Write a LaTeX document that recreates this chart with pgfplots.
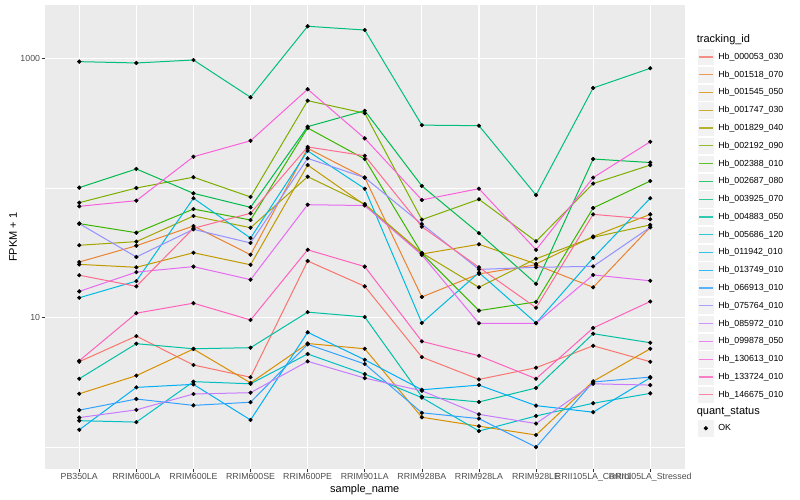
\documentclass[border=0pt]{standalone}
\usepackage{fontspec}
\setmainfont{Liberation Sans}
\usepackage{pgfplots}
\usepackage{pgfplotstable}
\pgfplotsset{compat=1.18}

\definecolor{panel}{HTML}{EBEBEB}
\definecolor{keybg}{HTML}{F2F2F2}
\definecolor{gray30}{HTML}{4D4D4D}
\definecolor{gray20}{HTML}{333333}
% ggplot hue palette, 20 levels
\definecolor{c1}{HTML}{F8766D}
\definecolor{c2}{HTML}{EA8331}
\definecolor{c3}{HTML}{D89000}
\definecolor{c4}{HTML}{C09B00}
\definecolor{c5}{HTML}{A3A500}
\definecolor{c6}{HTML}{7CAE00}
\definecolor{c7}{HTML}{39B600}
\definecolor{c8}{HTML}{00BB4E}
\definecolor{c9}{HTML}{00BF7D}
\definecolor{c10}{HTML}{00C1A3}
\definecolor{c11}{HTML}{00BFC4}
\definecolor{c12}{HTML}{00BAE0}
\definecolor{c13}{HTML}{00B0F6}
\definecolor{c14}{HTML}{35A2FF}
\definecolor{c15}{HTML}{9590FF}
\definecolor{c16}{HTML}{C77CFF}
\definecolor{c17}{HTML}{E76BF3}
\definecolor{c18}{HTML}{FA62DB}
\definecolor{c19}{HTML}{FF62BC}
\definecolor{c20}{HTML}{FF6C91}

% FPKM + 1 per sample (rows) and transcript (columns)
\pgfplotstableread{
x  s1   s2   s3   s4   s5   s6   s7   s8    s9   s10  s11  s12  s13  s14  s15  s16  s17  s18  s19  s20
0  4.56 26.8 2.58 25.7 36.1 76.9 53.0 100.5 942  3.37 1.60 14.2 1.36 1.93 53.0 1.69 15.9 72.1 4.64 21.2
1  7.19 35.8 3.56 24.4 38.5 99.8 45.1 140   920  6.28 1.56 19.1 2.89 2.35 29.3 1.94 22.4 79.7 10.8 17.4
2  4.30 50.8 5.71 31.6 60.7 121  68.7 90.8  970  5.74 3.20 83.2 3.05 2.10 47.9 2.57 24.7 174  12.9 48.8
3  3.46 30.5 3.13 25.5 49.3 85.1 56.5 70.8  500  5.85 3.08 41.0 1.62 2.22 37.6 2.63 19.6 231  9.57 63.7
4  27.3 202  6.30 150  122  471  290  297   1766 11.0 5.23 193  7.69 6.21 169  4.59 74.2 577  33.3 207
5  17.4 120  5.74 73.8 75.1 377  167  394   1652 10.1 3.66 98.6 4.72 4.38 120  3.41 73.1 241  24.7 177
6  4.95 14.4 1.70 30.9 31.5 56.9 31.2 103.5 305  2.45 2.41 9.08 2.77 1.84 52.6 2.72 30.4 80.7 6.55 50.2
7  3.33 21.7 1.45 36.7 17.1 81.7 11.3 44.7  302  2.23 1.33 22.2 3.01 1.66 23.5 1.79 9.02 98.6 5.07 24.4
8  4.10 25.5 1.24 25.9 28.4 38.7 13.2 18.2  88   2.86 1.74 9.08 2.09 1.00 24.4 1.52 9.02 33.3 3.37 11.9
9  6.05 17.1 3.22 42.2 41.6 108  70.0 167   590  7.50 2.18 28.8 1.86 3.18 24.8 3.08 21.3 120  8.30 62.5
10 4.56 49.7 5.74 62.5 51.8 150  113  157   837  6.39 2.60 83.2 3.43 3.47 49.7 3.01 19.2 227  13.3 57.3
}\fpkm

\begin{document}
\begin{tikzpicture}
\path[use as bounding box] (-45pt,-31pt) rectangle (755pt,469pt);
\begin{axis}[
    at={(0,0)}, anchor=south west,
    width=639.5pt, height=463.6pt, scale only axis,
    clip=false,
    xmin=-0.6, xmax=10.6,
    ymode=log, ymin=0.678, ymax=2559,
    axis background/.style={fill=panel},
    axis line style={draw=none},
    xtick={0,...,10},
    xticklabels={PB350LA,RRIM600LA,RRIM600LE,RRIM600SE,RRIM600PE,RRIM901LA,RRIM928BA,RRIM928LA,RRIM928LE,RRII105LA\_Control,RRII105LA\_Stressed},
    ytick={10,1000}, yticklabels={10,1000},
    minor ytick={1,100},
    xmajorgrids, ymajorgrids, yminorgrids,
    major grid style={white, line width=1.1pt},
    minor grid style={white, line width=0.55pt},
    xtick pos=left, ytick pos=left,
    tick align=outside,
    major tick length=2.75pt, minor tick length=0pt,
    tick style={gray20, line width=0.55pt},
    tick label style={font=\fontsize{8.8}{10}\selectfont, text=gray30},
    xticklabel style={inner sep=1.5pt},
    yticklabel style={inner sep=2pt},
    xlabel={sample\_name}, ylabel={FPKM + 1},
    label style={font=\fontsize{11}{13}\selectfont},
    xlabel style={at={(axis description cs:0.5,-0.0453)}, anchor=center},
    ylabel style={at={(axis description cs:-0.050,0.5)}, anchor=center},
    legend style={at={(1.0195,0.908)}, anchor=north west, draw=none, fill=none,
        inner sep=0pt, outer sep=0pt, row sep=0pt, column sep=0pt,
        font=\fontsize{8.8}{10}\selectfont,
        nodes={inner xsep=3.5pt, inner ysep=0pt}},
    legend cell align=left,
    legend image code/.code={
        \fill[keybg, draw=white, line width=0.5pt] (0pt,-8.64pt) rectangle (17.28pt,8.64pt);
        \draw[#1, mark=none, line width=1.2pt, opacity=0.8] (1.7pt,0pt) -- (15.6pt,0pt);
    },
    legend entries={Hb\_000053\_030,Hb\_001518\_070,Hb\_001545\_050,Hb\_001747\_030,Hb\_001829\_040,Hb\_002192\_090,Hb\_002388\_010,Hb\_002687\_080,Hb\_003925\_070,Hb\_004883\_050,Hb\_005686\_120,Hb\_011942\_010,Hb\_013749\_010,Hb\_066913\_010,Hb\_075764\_010,Hb\_085972\_010,Hb\_099878\_050,Hb\_130613\_010,Hb\_133724\_010,Hb\_146675\_010},
]
\pgfplotsinvokeforeach{1,...,20}{
    \addplot[color=c#1, line width=1pt] table[x=x, y=s#1]{\fpkm};
}
\pgfplotsinvokeforeach{1,...,20}{
    \addplot[only marks, mark=*, mark size=1.9pt, black, forget plot] table[x=x, y=s#1]{\fpkm};
}
\node[anchor=west, font=\fontsize{11}{13}\selectfont, inner sep=0pt] at (rel axis cs:1.019,0.9254) {tracking\_id};
\node[anchor=west, font=\fontsize{11}{13}\selectfont, inner sep=0pt] at (rel axis cs:1.019,0.123) {quant\_status};
\end{axis}
% second legend: quant_status
\begin{axis}[
    at={(0,0)}, anchor=south west,
    width=639.5pt, height=463.6pt, scale only axis,
    hide axis, xmin=0, xmax=1, ymin=0, ymax=1,
    legend style={at={(1.0195,0.107)}, anchor=north west, draw=none, fill=none,
        inner sep=0pt, outer sep=0pt,
        font=\fontsize{8.8}{10}\selectfont,
        nodes={inner xsep=3.5pt, inner ysep=0pt}},
    legend cell align=left,
]
\addlegendimage{black, legend image code/.code={
    \fill[keybg, draw=white, line width=0.5pt] (0pt,-8.64pt) rectangle (17.28pt,8.64pt);
    \fill[black] (8.64pt,0pt) circle (1.9pt);
}}
\addlegendentry{OK}
\end{axis}
\end{tikzpicture}
\end{document}
